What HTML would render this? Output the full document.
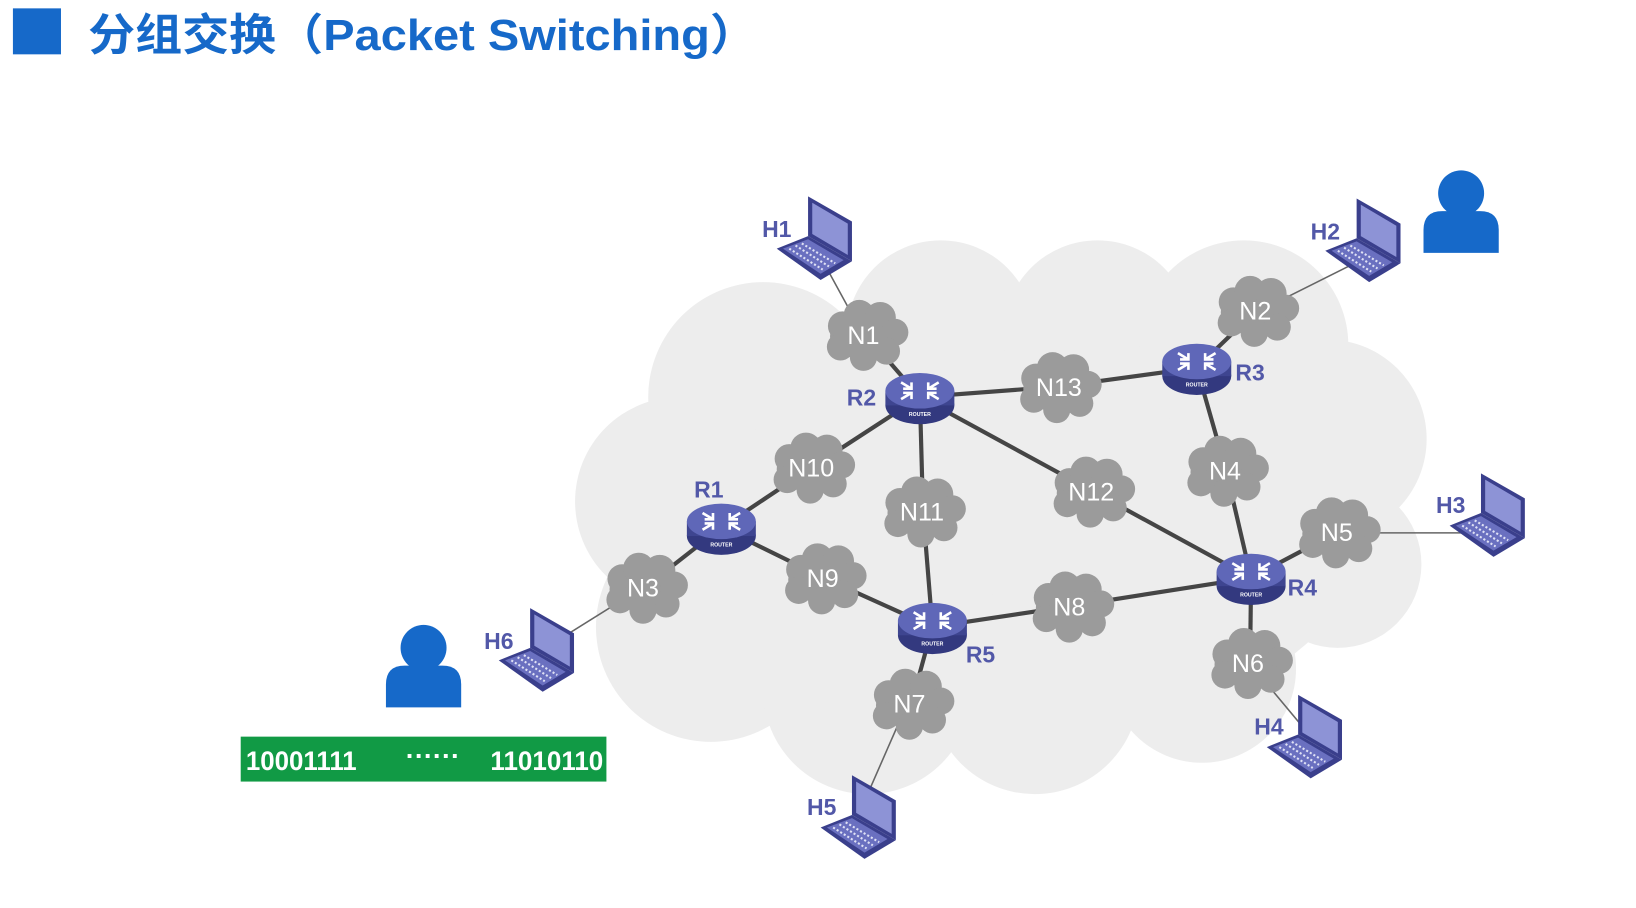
<!DOCTYPE html>
<html><head><meta charset="utf-8"><style>
html,body{margin:0;padding:0;background:#fff;}
svg{display:block}
text{font-family:"Liberation Sans","Noto Sans CJK SC",sans-serif;}
</style></head><body>
<svg width="1636" height="908" viewBox="0 0 1565 869" xmlns="http://www.w3.org/2000/svg">
<defs>
<g id="cl">
<ellipse cx="0" cy="4" rx="34" ry="22" fill="#9b9b9b"/>
<circle cx="-22" cy="-6" r="14" fill="#9b9b9b"/><circle cx="-6" cy="-16" r="15" fill="#9b9b9b"/>
<circle cx="14" cy="-14" r="15" fill="#9b9b9b"/><circle cx="28" cy="0" r="13" fill="#9b9b9b"/>
<circle cx="20" cy="18" r="13" fill="#9b9b9b"/><circle cx="-2" cy="24" r="13" fill="#9b9b9b"/>
<circle cx="-24" cy="14" r="13" fill="#9b9b9b"/>
</g>
<g id="rt">
<ellipse cx="0" cy="8" rx="33" ry="18" fill="#33397f"/>
<rect x="-33" y="-6" width="66" height="14" fill="#3e4590"/>
<ellipse cx="0" cy="-6" rx="33" ry="17" fill="#5f67b8"/>
<path d="M-18,-14 l10,6 M-8,-14 v6 h-8 M18,-14 l-10,6 M8,-14 v6 h8 M-18,2 l10,-6 M-8,2 v-6 h-8 M18,2 l-10,-6 M8,2 v-6 h8" stroke="#fff" stroke-width="2.5" fill="none"/>
<text x="0" y="18" font-size="5" fill="#fff" text-anchor="middle" font-weight="bold">ROUTER</text>
</g>
<g id="lp">
<polygon points="30,0 72,24 72,62 30,38" fill="#3a3f8c"/>
<polygon points="34,6 68,26 68,56 34,36" fill="#8d93d6"/>
<polygon points="0,50 30,38 72,62 42,80" fill="#3a3f8c"/>
<polygon points="6,50 30,41 64,61 42,74" fill="#6a70c0"/>
<path d="M12,50 L44,70 M18,47 L50,67 M24,45 L56,64" stroke="#dfe1f5" stroke-width="2" stroke-dasharray="2 2"/>
</g>
</defs>
<rect x="12" y="8" width="46" height="44" fill="#1669c9"/>
<text x="84" y="48" font-size="42" font-weight="bold" fill="#1669c9" textLength="640" lengthAdjust="spacingAndGlyphs">分组交换（Packet Switching）</text>
<g fill="#ededed">
<ellipse cx="950" cy="500" rx="360" ry="210"/>
<circle cx="730" cy="380" r="110"/><circle cx="900" cy="320" r="90"/><circle cx="1050" cy="320" r="90"/>
<circle cx="1190" cy="330" r="100"/><circle cx="1270" cy="420" r="95"/><circle cx="1280" cy="540" r="80"/>
<circle cx="650" cy="480" r="100"/><circle cx="680" cy="600" r="110"/><circle cx="830" cy="660" r="100"/>
<circle cx="990" cy="660" r="100"/><circle cx="1150" cy="640" r="90"/>
</g>
<g stroke="#666" stroke-width="1.5">
<line x1="790" y1="255" x2="820" y2="310"/><line x1="1290" y1="255" x2="1210" y2="295"/>
<line x1="1290" y1="510" x2="1400" y2="510"/><line x1="1200" y1="640" x2="1250" y2="700"/>
<line x1="865" y1="680" x2="830" y2="760"/><line x1="610" y1="565" x2="530" y2="615"/>
</g>
<g stroke="#454545" stroke-width="4">
<line x1="828" y1="320" x2="880" y2="380"/><line x1="880" y1="380" x2="1013" y2="370"/>
<line x1="1013" y1="370" x2="1145" y2="352"/><line x1="1145" y1="352" x2="1202" y2="297"/>
<line x1="1145" y1="352" x2="1173" y2="450"/><line x1="1173" y1="450" x2="1197" y2="553"/>
<line x1="880" y1="380" x2="777" y2="447"/><line x1="777" y1="447" x2="690" y2="505"/>
<line x1="880" y1="380" x2="883" y2="489"/><line x1="883" y1="489" x2="892" y2="600"/>
<line x1="880" y1="380" x2="1045" y2="470"/><line x1="1045" y1="470" x2="1197" y2="553"/>
<line x1="690" y1="505" x2="788" y2="553"/><line x1="788" y1="553" x2="892" y2="600"/>
<line x1="690" y1="505" x2="617" y2="562"/><line x1="892" y1="600" x2="1025" y2="580"/>
<line x1="1025" y1="580" x2="1197" y2="553"/><line x1="1197" y1="553" x2="1280" y2="509"/>
<line x1="1197" y1="553" x2="1196" y2="634"/><line x1="892" y1="600" x2="872" y2="673"/>
</g>
<g font-size="24" fill="#fff" text-anchor="middle">
<use href="#cl" x="828" y="318"/><text x="826" y="329">N1</text>
<use href="#cl" x="1202" y="295"/><text x="1201" y="306">N2</text>
<use href="#cl" x="1013" y="368"/><text x="1013" y="379">N13</text>
<use href="#cl" x="777" y="445"/><text x="776" y="456">N10</text>
<use href="#cl" x="883" y="487"/><text x="882" y="498">N11</text>
<use href="#cl" x="1045" y="468"/><text x="1044" y="479">N12</text>
<use href="#cl" x="1173" y="448"/><text x="1172" y="459">N4</text>
<use href="#cl" x="617" y="560"/><text x="615" y="571">N3</text>
<use href="#cl" x="788" y="551"/><text x="787" y="562">N9</text>
<use href="#cl" x="1025" y="578"/><text x="1023" y="589">N8</text>
<use href="#cl" x="1280" y="507"/><text x="1279" y="518">N5</text>
<use href="#cl" x="1196" y="632"/><text x="1194" y="643">N6</text>
<use href="#cl" x="872" y="671"/><text x="870" y="682">N7</text>
</g>
<use href="#rt" x="880" y="380"/><use href="#rt" x="1145" y="352"/><use href="#rt" x="690" y="505"/>
<use href="#rt" x="1197" y="553"/><use href="#rt" x="892" y="600"/>
<use href="#lp" x="743" y="188"/><use href="#lp" x="1268" y="190"/><use href="#lp" x="1387" y="453"/>
<use href="#lp" x="1212" y="665"/><use href="#lp" x="785" y="742"/><use href="#lp" x="477" y="582"/>
<g font-size="22" font-weight="bold" fill="#5258a8">
<text x="729" y="227">H1</text><text x="1254" y="229">H2</text><text x="1374" y="491">H3</text>
<text x="1200" y="703">H4</text><text x="772" y="780">H5</text><text x="463" y="621">H6</text>
<text x="810" y="388">R2</text><text x="1182" y="364">R3</text><text x="664" y="476">R1</text>
<text x="1232" y="570">R4</text><text x="924" y="634">R5</text>
</g>
<g fill="#1669c9">
<circle cx="1398" cy="185" r="22"/><path d="M1362,242 v-22 q0,-18 18,-18 h36 q18,0 18,18 v22 z"/>
<circle cx="405" cy="620" r="22"/><path d="M369,677 v-22 q0,-18 18,-18 h36 q18,0 18,18 v22 z"/>
</g>
<rect x="230" y="705" width="350" height="43" fill="#119a45"/>
<g font-size="26" fill="#fff" font-weight="bold"><text x="235" y="737" textLength="106" lengthAdjust="spacingAndGlyphs">10001111</text><text x="388" y="732">······</text><text x="469" y="737" textLength="108" lengthAdjust="spacingAndGlyphs">11010110</text></g>
</svg>
</body></html>
